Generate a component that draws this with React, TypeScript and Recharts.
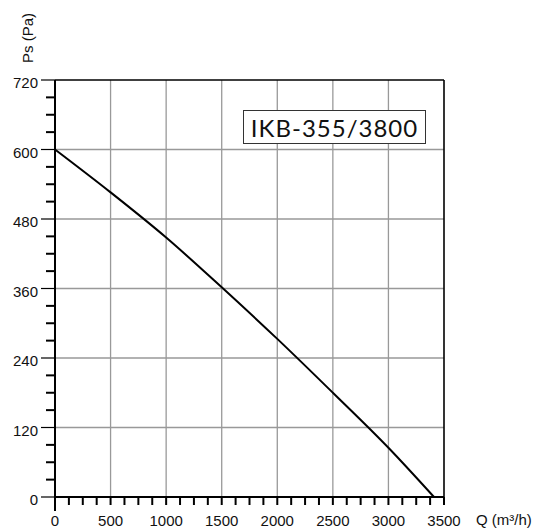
import React from "react"
import { LineChart, Line, XAxis, YAxis, ReferenceLine } from "recharts"

// fan curve
const flow = [0, 500, 1000, 1500, 2000, 2500, 3000, 3410]
const pressure = [600, 526, 448, 362, 273, 180, 85, 0]

const xMajor = [0, 500, 1000, 1500, 2000, 2500, 3000, 3500]
const yMajor = [0, 120, 240, 360, 480, 600, 720]
const xMinorStep = 125
const yMinorStep = 30

const xTicks = Array.from({ length: 3500 / xMinorStep + 1 }, (_, i) => i * xMinorStep)
const yTicks = Array.from({ length: 720 / yMinorStep + 1 }, (_, i) => i * yMinorStep)

const data = flow.map((q, i) => ({ q, ps: pressure[i] }))

const FONT = '"Liberation Sans", Arial, sans-serif'

const XTick = (props: any) => {
  const { x, y, payload } = props
  const v = payload.value
  const major = xMajor.includes(v)
  const len = v === 0 ? 14 : 8
  return (
    <g>
      <line x1={x} y1={y} x2={x} y2={y + len} stroke="#000" strokeWidth={2} />
      {major && (
        <text x={x} y={y + 29} textAnchor="middle" fontSize={15} fontFamily={FONT} fill="#111">
          {v}
        </text>
      )}
    </g>
  )
}

const YTick = (props: any) => {
  const { x, y, payload } = props
  const v = payload.value
  const major = yMajor.includes(v)
  return (
    <g>
      <line x1={x - (major ? 14 : 9)} y1={y} x2={x} y2={y} stroke="#000" strokeWidth={major ? 1.2 : 2} />
      {major && (
        <text x={x - 17} y={y + 8} textAnchor="end" fontSize={15} fontFamily={FONT} fill="#111">
          {v}
        </text>
      )}
    </g>
  )
}

export default function App() {
  return (
    <div style={{ position: "absolute", left: 0, top: 0, width: 535, height: 531, background: "#fff" }}>
      <LineChart width={535} height={531} data={data} margin={{ top: 80, right: 91, bottom: 0, left: 0 }}>
        {xMajor.slice(1, -1).map(v => (
          <ReferenceLine key={`vx-${v}`} x={v} stroke="#999" strokeWidth={1.3} />
        ))}
        {yMajor.slice(1, -1).map(v => (
          <ReferenceLine key={`hy-${v}`} y={v} stroke="#999" strokeWidth={1.3} />
        ))}
        <ReferenceLine y={720} stroke="#000" strokeWidth={1.6} />
        <ReferenceLine x={3500} stroke="#000" strokeWidth={1.6} />
        <XAxis
          dataKey="q"
          type="number"
          domain={[0, 3500]}
          ticks={xTicks}
          interval={0}
          height={34}
          tickSize={0}
          tickMargin={0}
          tickLine={false}
          axisLine={{ stroke: "#000", strokeWidth: 2 }}
          tick={<XTick />}
        />
        <YAxis
          type="number"
          domain={[0, 720]}
          ticks={yTicks}
          interval={0}
          width={55}
          tickSize={0}
          tickMargin={0}
          tickLine={false}
          axisLine={{ stroke: "#000", strokeWidth: 2 }}
          tick={<YTick />}
        />
        <Line
          dataKey="ps"
          type="monotone"
          stroke="#000"
          strokeWidth={2}
          dot={false}
          isAnimationActive={false}
        />
      </LineChart>

      <div
        style={{
          position: "absolute",
          left: 27,
          top: 38,
          transform: "translate(-50%, -50%) rotate(-90deg)",
          fontFamily: FONT,
          fontSize: 15,
          color: "#111",
          whiteSpace: "nowrap",
        }}
      >
        Ps (Pa)
      </div>
      <div
        style={{
          position: "absolute",
          left: 476,
          top: 511,
          fontFamily: FONT,
          fontSize: 15,
          color: "#111",
          whiteSpace: "nowrap",
        }}
      >
        Q (m³/h)
      </div>
      <div
        style={{
          position: "absolute",
          left: 243,
          top: 110,
          width: 181,
          height: 32,
          border: "1px solid #333",
          background: "#fff",
          display: "flex",
          alignItems: "center",
          justifyContent: "center",
          fontFamily: "Lato, sans-serif",
          fontSize: 24,
          letterSpacing: 1,
          color: "#111",
        }}
      >
        IKB-355/3800
      </div>
    </div>
  )
}
